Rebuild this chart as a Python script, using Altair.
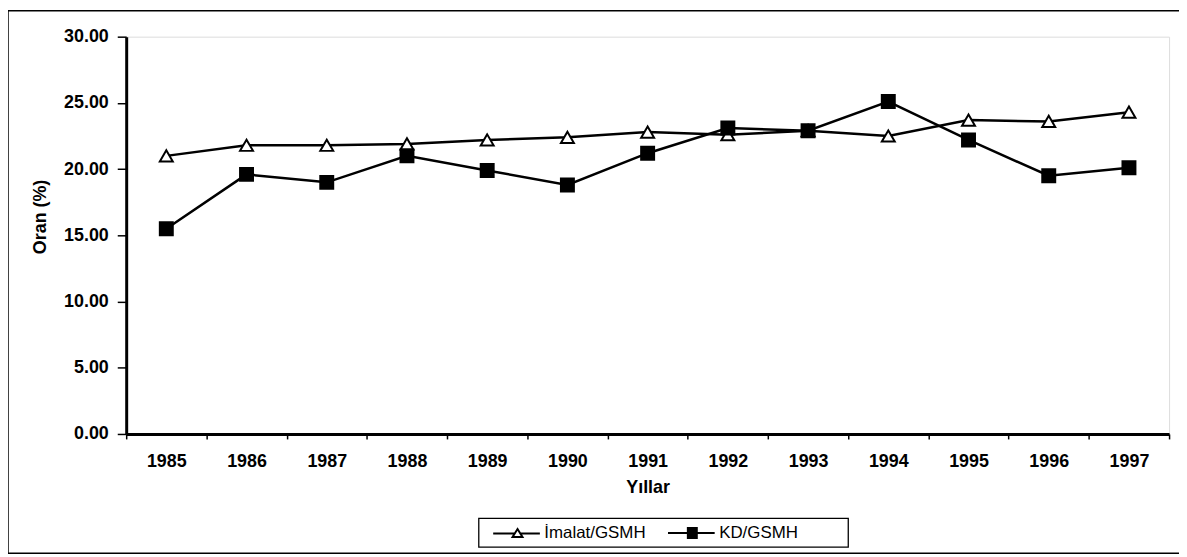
import altair as alt
import pandas as pd

# ---- data ----
years = ["1985", "1986", "1987", "1988", "1989", "1990", "1991",
         "1992", "1993", "1994", "1995", "1996", "1997"]
imalat_gsmh = [21.0, 21.8, 21.8, 21.9, 22.2, 22.4, 22.8, 22.6, 22.9, 22.5, 23.7, 23.6, 24.3]
kd_gsmh = [15.5, 19.6, 19.0, 21.0, 19.9, 18.8, 21.2, 23.1, 22.9, 25.1, 22.2, 19.5, 20.1]
series_names = ["İmalat/GSMH", "KD/GSMH"]
y_ticks = [0, 5, 10, 15, 20, 25, 30]

rows = []
for name, vals in zip(series_names, [imalat_gsmh, kd_gsmh]):
    for yr, v in zip(years, vals):
        rows.append({"year": yr, "series": name, "value": v})
df = pd.DataFrame(rows)

FONT = "Liberation Sans"

x_enc = alt.X(
    "year:O",
    scale=alt.Scale(type="band", domain=years, paddingInner=0, paddingOuter=0),
    axis=alt.Axis(
        title="Yıllar", labelAngle=0, tickBand="extent", tickSize=5, tickWidth=1.5,
        tickColor="black", labelPadding=14, labelFont=FONT, labelFontSize=18,
        labelFontWeight="bold", labelColor="black", titleFont=FONT, titleFontSize=18,
        titleFontWeight="bold", titleColor="black", titleY=45, domainWidth=3,
        domainColor="black",
    ),
)
y_enc = alt.Y(
    "value:Q",
    scale=alt.Scale(domain=[0, 30], nice=False, zero=True),
    axis=alt.Axis(
        title="Oran (%)", values=y_ticks, format=".2f", grid=False, tickSize=9,
        tickWidth=1.5, tickColor="black", labelPadding=9, labelFont=FONT,
        labelFontSize=18, labelFontWeight="bold", labelColor="black",
        titleFont=FONT, titleFontSize=18, titleFontWeight="bold", titleColor="black",
        titleX=-77, titleY=181, domainWidth=3, domainColor="black",
    ),
)

base = alt.Chart(df)

lines = base.mark_line(color="black", strokeWidth=2.5).encode(
    x=x_enc, y=y_enc, detail="series:N"
)

points = base.mark_point(stroke="black", strokeWidth=2, size=170, opacity=1).encode(
    x=x_enc,
    y=y_enc,
    shape=alt.Shape("series:N", scale=alt.Scale(domain=series_names,
                                                 range=["triangle-up", "square"]),
                    legend=None),
    fill=alt.Fill("series:N", scale=alt.Scale(domain=series_names,
                                               range=["white", "black"]),
                  legend=None),
)

# legend symbols: line segment with marker (square hatched so it reads as filled)
tri_path = "M0,0L4.3,0M5.5,0L9.4,0M4.9,-0.9L5.9,0.7L3.9,0.7Z"
sq_path = ("M0,0L9.4,0M4,-1L5.8,-1L5.8,1L4,1Z"
           "M4,-0.6L5.8,-0.6M4,-0.2L5.8,-0.2M4,0.2L5.8,0.2M4,0.6L5.8,0.6")

legend_layer = base.transform_filter("datum.value < -1000").mark_point(
    filled=False, color="black", strokeWidth=2, size=100, opacity=1
).encode(
    x=x_enc,
    y=y_enc,
    shape=alt.Shape("series:N", scale=alt.Scale(domain=series_names,
                                                 range=[tri_path, sq_path]),
                    legend=alt.Legend(title=None, orient="none", direction="horizontal",
                                      legendX=355, legendY=485, padding=6,
                                      labelOffset=43, columnPadding=13,
                                      labelFont=FONT, labelFontSize=17,
                                      labelColor="black", symbolSize=100,
                                      symbolStrokeWidth=2, symbolStrokeColor="black")),
)

deco_data = alt.Data(values=[{"k": 1}])
frame_left = alt.Chart(deco_data).mark_rule(color="black", strokeWidth=1.5).encode(
    x=alt.value(-119), y=alt.value(-26), y2=alt.value(520))
frame_top = alt.Chart(deco_data).mark_rule(color="black", strokeWidth=1.5).encode(
    x=alt.value(-119), x2=alt.value(1062), y=alt.value(-26))
frame_bottom = alt.Chart(deco_data).mark_rule(color="black", strokeWidth=1.5).encode(
    x=alt.value(-119), x2=alt.value(1062), y=alt.value(520))
legend_box = alt.Chart(deco_data).mark_rect(
    fill="white", fillOpacity=0, stroke="black", strokeWidth=1.3
).encode(x=alt.value(355), x2=alt.value(727), y=alt.value(485), y2=alt.value(514))

chart = alt.layer(
    lines, points, legend_layer, frame_left, frame_top, frame_bottom, legend_box
).resolve_scale(
    shape="independent", fill="independent"
).properties(
    width=1050, height=400,
    autosize=alt.AutoSizeParams(type="none"),
    padding={"left": 119, "top": 27, "right": 10, "bottom": 121},
).configure_view(
    stroke="black", strokeWidth=2
).configure(background="white")

chart.save("out.html", embed_options={"renderer": "svg", "actions": False})
